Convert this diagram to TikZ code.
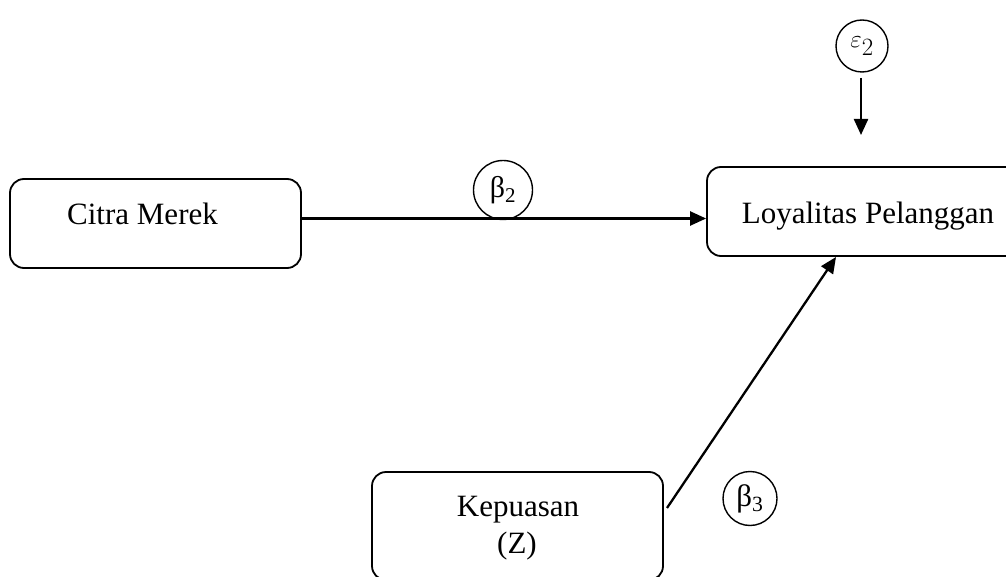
\documentclass[tikz,border=0pt]{standalone}
\usepackage{fontspec}
\setmainfont{Liberation Serif}
\usetikzlibrary{arrows.meta}
\tikzset{
  boxshape/.style={draw, line width=1.8pt, rounded corners=14pt, inner sep=0pt},
  lbl/.style={font=\fontsize{31}{36}\selectfont, anchor=base, inner sep=0pt},
  coef/.style={draw, circle, line width=1.4pt, inner sep=0pt},
  conn/.style={line width=2.3pt, -{Triangle[length=16pt,width=14pt]}}
}
\begin{document}
\begin{tikzpicture}[x=1pt,y=-1pt]
\useasboundingbox (0,0) rectangle (1006,577);
\clip (0,0) rectangle (1006,577);
% boxes
\node[boxshape, minimum width=291pt, minimum height=89pt] (citra) at (155.5,223.5) {};
\node[boxshape, minimum width=330pt, minimum height=89pt] (loyal) at (872,211.5) {};
\node[boxshape, minimum width=291pt, minimum height=108pt] (kepuas) at (517.5,526) {};
% labels
\node[lbl] (tcitra) at (142.5,225) {Citra Merek};
\node[lbl] (tloyal) at (868,224) {Loyalitas Pelanggan};
\node[lbl] (tkep) at (518,516) {Kepuasan};
\node[lbl] (tz) at (517,553) {(Z)};
% coefficient circles
\node[coef, minimum size=59pt] (b2) at (503,190) {\fontsize{30}{34}\selectfont β\textsubscript{2}};
\node[coef, minimum size=54pt] (b3) at (750,498.5) {\fontsize{31}{34}\selectfont β\textsubscript{3}};
\node[coef, minimum size=52pt] (e2) at (862,46) {\fontsize{34}{36}\selectfont $\varepsilon_2$};
% connectors
\coordinate (eStart) at (861,78);
\coordinate (eEnd) at (861,135);
\coordinate (kStart) at (667,508);
\coordinate (kEnd) at (836,257);
\draw[conn] (citra.east |- 0,218.5) -- (loyal.west |- 0,218.5);
\draw[conn] (eStart) -- (eEnd);
\draw[conn] (kStart) -- (kEnd);
\end{tikzpicture}
\end{document}
